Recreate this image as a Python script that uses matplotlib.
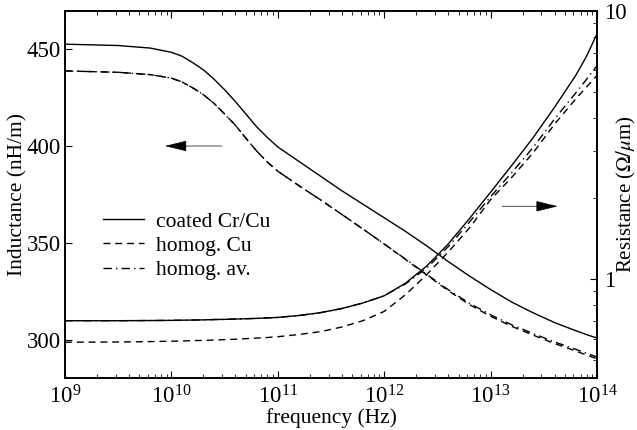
import numpy as np
import matplotlib
matplotlib.use("Agg")
import matplotlib.pyplot as plt
from matplotlib.ticker import LogLocator, NullFormatter, FixedLocator

plt.rcParams['font.family'] = ['Liberation Serif', 'DejaVu Serif']
plt.rcParams['mathtext.fontset'] = 'stix'
plt.rcParams['font.size'] = 15.5

# log10 of frequency (Hz) at which values were read
logf = [9, 9.5, 9.8, 10, 10.1, 10.2, 10.3, 10.4, 10.5, 10.6, 10.7, 10.8, 10.9, 11,
        11.2, 11.4, 11.6, 11.8, 12, 12.2, 12.4, 12.6, 12.8, 13, 13.2, 13.4, 13.6,
        13.8, 13.9, 14]

# inductance (nH/m)
L_coated = [452.5, 451.8, 450.5, 448.3, 446.3, 443, 439.3, 434.5, 429, 423, 416.5,
            410, 404.5, 399.5, 392, 384.5, 377, 370, 363, 356, 348.5, 340.5,
            333, 326, 319.5, 314, 309, 304.8, 302.8, 301]
L_cu = [438.7, 438, 436.8, 435, 433, 430, 426.5, 422, 416.5, 410.8, 404, 397.5,
        391.8, 387, 379.5, 372.3, 364.8, 357.2, 349.5, 341.5, 333.5, 325.5, 318.3,
        312.2, 307, 302.5, 298.2, 294.3, 292.3, 290.3]
L_av = [438.7, 438, 436.8, 435, 433, 430, 426.5, 422, 416.5, 410.8, 404, 397.5,
        391.8, 387, 379.5, 372.3, 364.8, 357.2, 349.5, 341.7, 333.8, 326, 319,
        313, 307.8, 303.3, 299, 295.2, 293.2, 291.2]

# resistance (Ohm/um)
R_coated = [0.700, 0.700, 0.701, 0.702, 0.703, 0.704, 0.705, 0.707, 0.708, 0.71,
            0.712, 0.714, 0.717, 0.72, 0.732, 0.75, 0.777, 0.815, 0.867, 0.966,
            1.12, 1.35, 1.68, 2.11, 2.66, 3.37, 4.37, 5.75, 6.76, 8.22]
R_cu = [0.582, 0.583, 0.585, 0.587, 0.588, 0.59, 0.591, 0.593, 0.595, 0.597,
        0.6, 0.603, 0.606, 0.61, 0.622, 0.637, 0.663, 0.70, 0.758, 0.875,
        1.04, 1.26, 1.55, 1.98, 2.40, 2.96, 3.78, 4.70, 5.2, 5.75]
R_av = [0.700, 0.700, 0.701, 0.702, 0.703, 0.704, 0.705, 0.707, 0.708, 0.71,
        0.712, 0.714, 0.717, 0.72, 0.732, 0.75, 0.777, 0.815, 0.867, 0.96,
        1.10, 1.32, 1.63, 2.03, 2.5, 3.1, 3.95, 4.95, 5.55, 6.25]

freq = 10.0 ** np.array(logf)

labels = ['coated Cr/Cu', 'homog. Cu', 'homog. av.']
dash = (0, (5, 3.5))
dashdot = (0, (6, 3, 1, 3))
lw = 1.0
tick_fs = 16.5

fig = plt.figure(figsize=(6.37, 4.3), dpi=100)
ax = fig.add_axes([65/637, 1-378/430, 532/637, 367/430])

ax.plot(freq, L_coated, color='black', lw=lw, ls='-', label=labels[0])
ax.plot(freq, L_cu, color='black', lw=lw, ls=dash, label=labels[1])
ax.plot(freq, L_av, color='black', lw=lw, ls=dashdot, label=labels[2])

ax.set_xscale('log')
ax.set_xlim(1e9, 1e14)
ax.set_ylim(280.4, 469.6)
ax.set_yticks([300, 350, 400, 450])
ax.set_xlabel('frequency (Hz)', labelpad=0)
ax.set_ylabel('Inductance (nH/m)')
ax.yaxis.set_label_coords(-0.071, 0.5)
ax.xaxis.set_major_locator(LogLocator(base=10, numticks=10))
ax.xaxis.set_minor_locator(LogLocator(base=10, subs=np.arange(2, 10), numticks=10))
ax.xaxis.set_minor_formatter(NullFormatter())
ax.tick_params(axis='x', which='both', direction='in', top=True, pad=5,
               labelsize=tick_fs)
ax.tick_params(axis='x', which='major', length=5, width=0.8)
ax.tick_params(axis='x', which='minor', length=3, width=0.6)
ax.tick_params(axis='y', which='major', direction='in', length=5, width=0.8,
               pad=3, labelsize=tick_fs)
for s in ax.spines.values():
    s.set_linewidth(1.2)

ax.annotate('', xy=(8.7e9, 400), xytext=(2.99e10, 400),
            arrowprops=dict(arrowstyle='-|>,head_length=0.9,head_width=0.22',
                            color='black', lw=0.5, shrinkA=0, shrinkB=0))

leg = ax.legend(loc='upper left', bbox_to_anchor=(0.055, 0.477), frameon=False,
                handlelength=1.9, handletextpad=0.56, labelspacing=0.2,
                borderaxespad=0)

ax2 = ax.twinx()
ax2.plot(freq, R_coated, color='black', lw=lw, ls='-')
ax2.plot(freq, R_cu, color='black', lw=lw, ls=dash)
ax2.plot(freq, R_av, color='black', lw=lw, ls=dashdot)
ax2.set_yscale('log')
ax2.set_ylim(0.428, 10)
ax2.set_xlim(1e9, 1e14)
ax2.yaxis.set_major_locator(FixedLocator([1, 10]))
ax2.yaxis.set_minor_locator(LogLocator(base=10, subs=np.arange(2, 10), numticks=10))
ax2.yaxis.set_minor_formatter(NullFormatter())
ax2.set_yticklabels(['1', '10'])
ax2.tick_params(axis='y', which='major', direction='in', length=5, width=0.8,
                pad=5, labelsize=tick_fs)
ax2.tick_params(axis='y', which='minor', direction='in', length=3, width=0.6)
ax2.set_ylabel(r'Resistance ($\Omega/\mu$m)', fontsize=15)
ax2.yaxis.set_label_coords(1.033, 0.5)
for s in ax2.spines.values():
    s.set_linewidth(1.2)

ax2.annotate('', xy=(4.27e13, 1.87), xytext=(1.28e13, 1.87),
             arrowprops=dict(arrowstyle='-|>,head_length=0.9,head_width=0.22',
                             color='black', lw=0.5, shrinkA=0, shrinkB=0))

fig.savefig('out.png', dpi=100)
